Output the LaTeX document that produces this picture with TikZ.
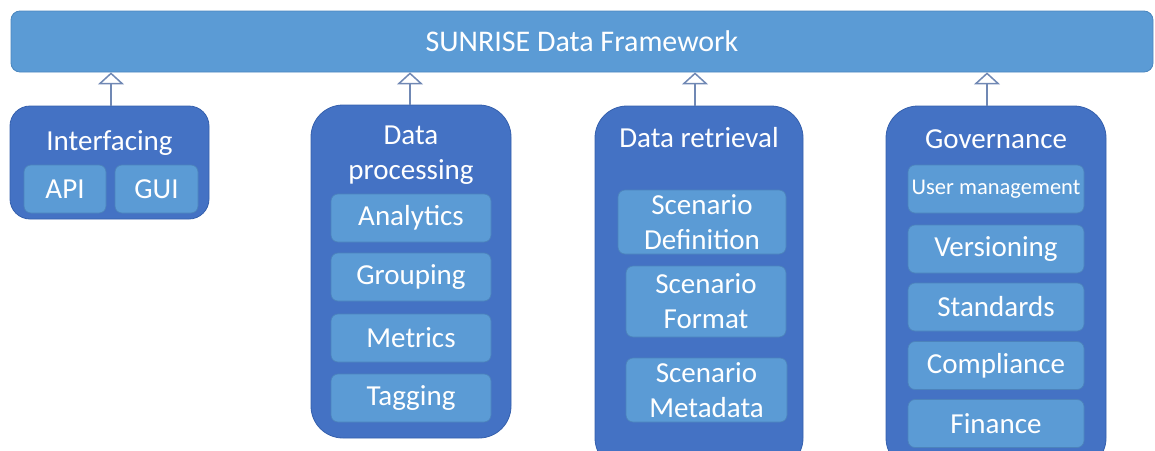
\documentclass[tikz,border=0pt]{standalone}
\usepackage{fontspec}
\setmainfont{Carlito}
\usetikzlibrary{arrows.meta}
\definecolor{barblue}{HTML}{5B9BD5}
\definecolor{baredge}{HTML}{4A86BF}
\definecolor{grpblue}{HTML}{4472C4}
\definecolor{grpedge}{HTML}{3560AD}
\definecolor{itemedge}{HTML}{4C83BC}
\definecolor{arrowc}{HTML}{7088B4}
\tikzset{
  box/.style={inner sep=0pt, text=white, align=center, font=\fontsize{29}{35}\selectfont},
  group/.style={box, fill=grpblue, draw=grpedge, line width=0.8pt, rounded corners=#1},
  item/.style={box, fill=barblue, draw=itemedge, line width=0.7pt, rounded corners=7pt},
  title/.style={box},
  inherit/.style={draw=arrowc, line width=1.5pt, -{Triangle[open, width=26pt, length=12pt]}}
}
\begin{document}
\begin{tikzpicture}[x=1pt,y=-1pt]
\useasboundingbox (0,0) rectangle (1155,450);
\clip (0,0) rectangle (1155,450);
% top bar
\node[box, fill=barblue, draw=baredge, line width=0.8pt, rounded corners=9pt,
  minimum width=1142pt, minimum height=61pt, font=\fontsize{30}{35}\selectfont] (bar) at (582,41.5) {SUNRISE Data Framework};
% Interfacing
\node[group=20pt, minimum width=199pt, minimum height=113pt] (intf) at (109.5,162.5) {};
\node[title] (intft) at (109.5,143) {Interfacing};
\node[item, minimum width=82pt, minimum height=48pt] (api) at (65,189) {API};
\node[item, minimum width=83pt, minimum height=48pt] (gui) at (156.5,189) {GUI};
% Data processing
\node[group=32pt, minimum width=200pt, minimum height=333pt] (proc) at (411,271.5) {};
\node[title] (proct) at (411,155.5) {Data\\processing};
\node[item, minimum width=160pt, minimum height=48pt] (ana) at (411,218) {Analytics};
\node[item, minimum width=160pt, minimum height=48pt] (grp) at (411,277) {Grouping};
\node[item, minimum width=160pt, minimum height=48pt] (met) at (411,338) {Metrics};
\node[item, minimum width=160pt, minimum height=48pt] (tag) at (411,398) {Tagging};
% Data retrieval
\node[group=32pt, minimum width=208pt, minimum height=364pt] (retr) at (699,288) {};
\node[title] (retrt) at (699,138) {Data retrieval};
\node[item, minimum width=168pt, minimum height=64pt] (sdef) at (702,222) {Scenario\\Definition};
\node[item, minimum width=160pt, minimum height=71pt] (sfmt) at (706,301.5) {Scenario\\Format};
\node[item, minimum width=161pt, minimum height=64pt] (smeta) at (706.5,390) {Scenario\\Metadata};
% Governance
\node[group=32pt, minimum width=220pt, minimum height=364pt] (gov) at (996,288) {};
\node[title] (govt) at (996,139) {Governance};
\node[item, minimum width=176pt, minimum height=48pt, font=\fontsize{22.5}{26}\selectfont] (user) at (996,189) {User management};
\node[item, minimum width=176pt, minimum height=48pt] (ver) at (996,249) {Versioning};
\node[item, minimum width=176pt, minimum height=48pt] (std) at (996,307) {Standards};
\node[item, minimum width=176pt, minimum height=48pt] (comp) at (996,365.5) {Compliance};
\node[item, minimum width=176pt, minimum height=48pt] (fin) at (996,423.5) {Finance};
% inheritance arrows
\draw[inherit] ([xshift=1.5pt]intf.north) -- ([xshift=1.5pt]intf.north |- bar.south);
\draw[inherit] ([xshift=-1pt]proc.north) -- ([xshift=-1pt]proc.north |- bar.south);
\draw[inherit] ([xshift=-4pt]retr.north) -- ([xshift=-4pt]retr.north |- bar.south);
\draw[inherit] ([xshift=-9pt]gov.north) -- ([xshift=-9pt]gov.north |- bar.south);
\end{tikzpicture}
\end{document}
